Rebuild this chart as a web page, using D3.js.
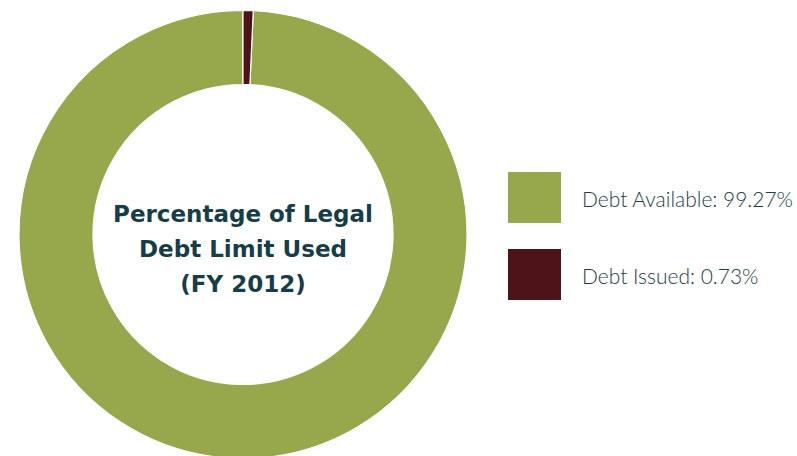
<!DOCTYPE html>
<html lang="en">
<head>
    <meta charset="UTF-8">
    <title>Percentage of Legal Debt Limit Used</title>
    <script src="https://d3js.org/d3.v7.min.js"></script>
    <style>
        body { margin: 0; background: #fff; }
        svg { display: block; }
        .title { font-family: "DejaVu Sans", Lato, sans-serif; font-weight: 700; fill: #173d47; }
        .legend text { font-family: Lato, "Open Sans", sans-serif; font-weight: 300; fill: #1d3c47; }
    </style>
</head>
<body>
    <svg width="797" height="456"></svg>

    <script>
        const categories = ["Debt Available", "Debt Issued"];
        const values = [99.27, 0.73];
        const colors = ["#96a74c", "#4e1219"];
        const titleLines = ["Percentage of Legal", "Debt Limit Used", "(FY 2012)"];

        const svg = d3.select("svg");
        const cx = 243, cy = 234.5, outerR = 224, innerR = 150;

        const data = categories.map((c, i) => ({ name: c, value: values[i], color: colors[i] }));

        // smaller slice starts at 12 o'clock
        const pie = d3.pie().value(d => d.value).sort((a, b) => a.value - b.value);
        const arc = d3.arc().innerRadius(innerR).outerRadius(outerR);

        const g = svg.append("g").attr("transform", `translate(${cx},${cy})`);
        g.selectAll("path")
            .data(pie(data))
            .enter().append("path")
            .attr("d", arc)
            .attr("fill", d => d.data.color)
            .attr("stroke", "#fff")
            .attr("stroke-width", 1.2);

        const titleText = g.append("text")
            .attr("class", "title")
            .attr("text-anchor", "middle")
            .attr("font-size", 22);
        const lines = titleText.selectAll("tspan")
            .data(titleLines)
            .enter().append("tspan")
            .attr("x", 0)
            .attr("y", (d, i) => -12.5 + i * 35)
            .text(d => d);

        // fit first line to reference width (~260px)
        const w0 = lines.nodes()[0].getComputedTextLength();
        if (w0 > 0) titleText.attr("font-size", Math.max(20, Math.min(26, 22 * 260 / w0)));

        const legend = svg.append("g").attr("class", "legend");
        const item = legend.selectAll("g")
            .data(data)
            .enter().append("g")
            .attr("transform", (d, i) => `translate(508,${172 + i * 77})`);
        item.append("rect")
            .attr("width", 53)
            .attr("height", 51)
            .attr("fill", d => d.color);
        const labels = item.append("text")
            .attr("x", 74)
            .attr("y", 34.5)
            .attr("font-size", 22)
            .text(d => `${d.name}: ${d.value.toFixed(2)}%`);
        const lw = labels.nodes()[0].getComputedTextLength();
        if (lw > 211) labels.attr("font-size", 22 * 211 / lw);
    </script>
</body>
</html>
